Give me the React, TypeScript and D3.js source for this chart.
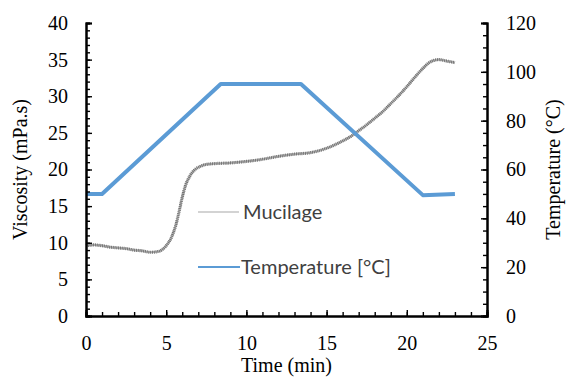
import React, { useEffect, useRef } from 'react';
import * as d3 from 'd3';

// time (min) vs viscosity (mPa.s)
const mucilageTime = [0, 0.5, 1, 1.5, 2, 2.5, 3, 3.5, 4, 4.5, 5, 5.3, 5.6, 5.8, 6.0, 6.2, 6.5, 6.8, 7.1, 7.5, 8, 9, 10, 11, 12, 13, 14, 15, 16, 16.5, 17, 17.5, 18, 18.5, 19, 19.5, 20, 20.5, 21, 21.4, 21.7, 22, 22.5, 23];
const mucilageVisc = [9.6, 9.7, 9.6, 9.4, 9.3, 9.2, 9.0, 8.9, 8.7, 8.8, 9.6, 10.6, 12.4, 14.2, 16.2, 17.8, 19.2, 20.0, 20.4, 20.7, 20.8, 20.9, 21.1, 21.4, 21.8, 22.1, 22.3, 22.9, 23.9, 24.5, 25.3, 26.1, 27.0, 27.9, 29.0, 30.1, 31.3, 32.6, 33.8, 34.6, 34.9, 35.0, 34.8, 34.6];

// time (min) vs temperature (°C)
const tempTime = [0, 1, 8.4, 13.4, 21, 23];
const tempValue = [50, 50, 95, 95, 49.5, 50];

const xTicks = [0, 5, 10, 15, 20, 25];
const yLeftTicks = [0, 5, 10, 15, 20, 25, 30, 35, 40];
const yRightTicks = [0, 20, 40, 60, 80, 100, 120];

const App = () => {
    const ref = useRef<SVGSVGElement>(null);

    useEffect(() => {
        const svg = d3.select(ref.current);
        svg.selectAll('*').remove();

        const left = 86, right = 487, top = 23, bottom = 316;
        const x = d3.scaleLinear().domain([0, 25]).range([left, right]);
        const yL = d3.scaleLinear().domain([0, 40]).range([bottom, top]);
        const yR = d3.scaleLinear().domain([0, 120]).range([bottom, top]);
        const serif = "'Liberation Serif', 'Times New Roman', serif";

        // mucilage line, hatched stroke gives the noisy look
        const mucData = mucilageTime.map((t, i) => [t, mucilageVisc[i]] as [number, number]);
        const mucLine = d3.line<[number, number]>()
            .x(d => x(d[0]))
            .y(d => yL(d[1]))
            .curve(d3.curveMonotoneX);
        svg.append('path')
            .attr('d', mucLine(mucData))
            .attr('fill', 'none')
            .attr('stroke', '#b5b5b5')
            .attr('stroke-width', 2.2);
        svg.append('path')
            .attr('d', mucLine(mucData))
            .attr('fill', 'none')
            .attr('stroke', '#707070')
            .attr('stroke-width', 3.2)
            .style('stroke-dasharray', '0.9, 0.9');

        // temperature line
        const tData = tempTime.map((t, i) => [t, tempValue[i]] as [number, number]);
        svg.append('path')
            .datum(tData)
            .attr('fill', 'none')
            .attr('stroke', '#5b9bd5')
            .attr('stroke-width', 4)
            .attr('stroke-linejoin', 'round')
            .attr('d', d3.line<[number, number]>()
                .x(d => x(d[0]))
                .y(d => yR(d[1]))
            );

        // axes
        const gx = svg.append('g').attr('transform', 'translate(0,' + bottom + ')');
        gx.call(d3.axisBottom(x).ticks(25).tickSize(-4).tickFormat(() => ''));
        const gx2 = svg.append('g').attr('transform', 'translate(0,' + bottom + ')');
        gx2.call(d3.axisBottom(x).tickValues(xTicks).tickSize(-6).tickPadding(20).tickFormat(d3.format('d')));

        const gl = svg.append('g').attr('transform', 'translate(' + left + ',0)');
        gl.call(d3.axisLeft(yL).ticks(40).tickSize(-4).tickFormat(() => ''));
        const gl2 = svg.append('g').attr('transform', 'translate(' + left + ',0)');
        gl2.call(d3.axisLeft(yL).tickValues(yLeftTicks).tickSize(-6).tickPadding(18).tickFormat(d3.format('d')));

        const gr = svg.append('g').attr('transform', 'translate(' + right + ',0)');
        gr.call(d3.axisRight(yR).ticks(30).tickSize(-4).tickFormat(() => ''));
        const gr2 = svg.append('g').attr('transform', 'translate(' + right + ',0)');
        gr2.call(d3.axisRight(yR).tickValues(yRightTicks).tickSize(-6).tickPadding(19).tickFormat(d3.format('d')));

        svg.selectAll('.domain').attr('stroke', '#000').attr('stroke-width', 2);
        svg.selectAll('.tick line').attr('stroke', '#000').attr('stroke-width', 1.4);
        svg.selectAll('g').attr('font-family', serif).attr('font-size', 20);
        svg.selectAll('.tick text')
            .attr('fill', '#000')
            .style('font-family', serif)
            .style('font-size', '20px');

        // axis titles
        svg.append('text')
            .attr('x', (left + right) / 2)
            .attr('y', 372)
            .attr('text-anchor', 'middle')
            .style('font-family', serif)
            .style('font-size', '20px')
            .text('Time (min)');
        svg.append('text')
            .attr('transform', 'translate(27,' + (top + bottom) / 2 + ') rotate(-90)')
            .attr('text-anchor', 'middle')
            .style('font-family', serif)
            .style('font-size', '20px')
            .text('Viscosity (mPa.s)');
        svg.append('text')
            .attr('transform', 'translate(560,' + (top + bottom) / 2 + ') rotate(-90)')
            .attr('text-anchor', 'middle')
            .style('font-family', serif)
            .style('font-size', '20px')
            .text('Temperature (°C)');

        // legend
        const sans = "Lato, 'Open Sans', sans-serif";
        svg.append('line')
            .attr('x1', 198).attr('x2', 239).attr('y1', 212).attr('y2', 212)
            .attr('stroke', '#c4c4c4').attr('stroke-width', 1.5);
        svg.append('text')
            .attr('x', 243).attr('y', 219)
            .attr('fill', '#404040')
            .style('font-family', sans)
            .style('font-size', '20px')
            .text('Mucilage');
        svg.append('line')
            .attr('x1', 198).attr('x2', 240).attr('y1', 267).attr('y2', 267)
            .attr('stroke', '#5b9bd5').attr('stroke-width', 2);
        svg.append('text')
            .attr('x', 241).attr('y', 274)
            .attr('fill', '#404040')
            .style('font-family', sans)
            .style('font-size', '20px')
            .text('Temperature [°C]');
    }, []);

    return (
        <svg ref={ref} width={566} height={377}
            style={{ position: 'absolute', left: 0, top: 0, background: '#fff' }} />
    );
};

export default App;
